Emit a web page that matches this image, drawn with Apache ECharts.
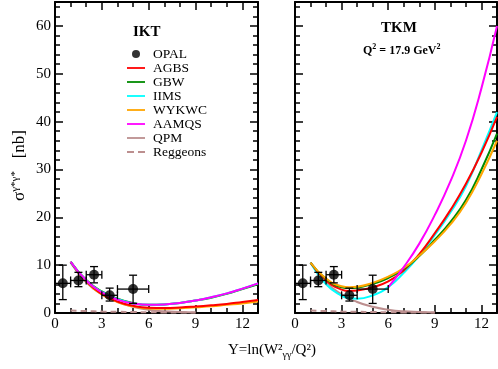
<!DOCTYPE html>
<html>
<head>
<meta charset="utf-8">
<script src="https://cdn.jsdelivr.net/npm/echarts@6/dist/echarts.min.js"></script>
<style>
html, body { margin: 0; padding: 0; background: #fff; }
#chart { width: 498px; height: 369px; }
</style>
</head>
<body>
<div id="chart"></div>
<script>
// OPAL data: x, y, x-lo, x-hi, y-lo, y-hi
var opalX = [0.5, 1.5, 2.5, 3.5, 5.0];
var opalY = [6.2, 6.8, 8.0, 3.7, 5.0];
var opalXLo = [0, 1, 2, 3, 4];
var opalXHi = [1, 2, 3, 4, 6];
var opalYLo = [2.8, 5.5, 6.3, 2.5, 2.0];
var opalYHi = [10.0, 8.5, 9.7, 5.2, 7.9];

// IKT panel
var xIKT = [1, 2, 3, 4, 5, 6, 7, 8, 9, 10, 11, 12, 13];
var iktAGBS = [10.7, 6.6, 4.0, 2.4, 1.5, 1.1, 1.05, 1.15, 1.35, 1.6, 1.9, 2.3, 2.7];
var iktGBW = [10.7, 6.9, 4.5, 3.0, 2.1, 1.7, 1.8, 2.1, 2.6, 3.2, 4.0, 5.0, 6.0];
var iktIIMS = [10.7, 6.8, 4.4, 2.9, 2.0, 1.7, 1.8, 2.1, 2.6, 3.3, 4.1, 5.1, 6.2];
var iktWYKWC = [10.7, 6.6, 3.9, 2.3, 1.4, 0.95, 0.9, 1.0, 1.2, 1.4, 1.7, 2.0, 2.4];
var iktAAMQS = [10.7, 6.8, 4.3, 2.8, 2.0, 1.7, 1.8, 2.1, 2.6, 3.3, 4.1, 5.1, 6.2];

// TKM panel
var xTKM = [1, 2, 3, 3.5, 4, 5, 6, 7, 8, 9, 10, 11, 12, 13];
var tkmWYKWC = [10.5, 7.2, 5.6, 5.4, 5.5, 6.3, 7.6, 9.4, 12.0, 15.0, 18.5, 23.0, 29.0, 36.0];
var tkmGBW = [10.5, 7.1, 5.4, 5.2, 5.3, 6.1, 7.3, 9.2, 11.9, 15.3, 19.0, 23.6, 30.0, 37.5];
var tkmAGBS = [10.5, 6.8, 4.9, 4.6, 4.7, 5.4, 6.6, 8.9, 12.3, 16.7, 21.5, 27.0, 33.5, 41.0];
var tkmIIMS = [10.5, 6.0, 3.6, 3.1, 3.0, 3.7, 5.4, 8.4, 12.0, 16.3, 21.0, 26.5, 34.0, 42.0];
var xTKMAAMQS = [6, 7, 8, 9, 10, 11, 12, 13];
var tkmAAMQS = [5.4, 9.6, 14.5, 20.5, 27.5, 36.0, 47.0, 60.0];

// QPM and Reggeons (same for both panels)
var xQPM = [1, 2, 3, 4, 5, 6, 7, 8, 9];
var qpm = [10.5, 6.4, 3.9, 2.3, 1.3, 0.7, 0.35, 0.2, 0.1];
var xReg = [1, 2, 3, 4, 5, 6, 7, 8, 9];
var reggeons = [0.5, 0.4, 0.3, 0.25, 0.2, 0.15, 0.12, 0.1, 0.08];

var legendNames = ['OPAL', 'AGBS', 'GBW', 'IIMS', 'WYKWC', 'AAMQS', 'QPM', 'Reggeons'];

var FONT = 'Liberation Serif';
var colors = {
    AGBS: '#ff0000',
    GBW: '#008b00',
    IIMS: '#00ffff',
    WYKWC: '#ffa500',
    AAMQS: '#ff00ff',
    QPM: '#bc8f8f',
    Reggeons: '#bc8f8f'
};

// legend icons: a thin bar inside an 18x8 box (moveTo points fix the box)
var ICON_LINE = 'path://M0,0M18,8M0,3.1H18V4.9H0Z';
var ICON_DASH = 'path://M0,0M18,8M0,3.1H7V4.9H0ZM11,3.1H18V4.9H11Z';

function zip(xs, ys) {
    return xs.map(function (x, i) { return [x, ys[i]]; });
}

function opalData() {
    return opalX.map(function (x, i) {
        return [x, opalY[i], opalXLo[i], opalXHi[i], opalYLo[i], opalYHi[i]];
    });
}

function lineSeries(name, xs, ys, panel, dashed) {
    return {
        name: name,
        type: 'line',
        xAxisIndex: panel * 2,
        yAxisIndex: panel * 2,
        data: zip(xs, ys),
        smooth: true,
        symbol: 'none',
        color: colors[name],
        lineStyle: { width: 2, color: colors[name], type: dashed ? [6, 4] : 'solid' },
        z: 3
    };
}

function errorSeries(panel) {
    return {
        type: 'custom',
        xAxisIndex: panel * 2,
        yAxisIndex: panel * 2,
        data: opalData(),
        z: 5,
        renderItem: function (params, api) {
            var c = api.coord([api.value(0), api.value(1)]);
            var l = api.coord([api.value(2), api.value(1)]);
            var r = api.coord([api.value(3), api.value(1)]);
            var b = api.coord([api.value(0), api.value(4)]);
            var t = api.coord([api.value(0), api.value(5)]);
            var cap = 4;
            var style = { stroke: '#000', lineWidth: 1.3, fill: null };
            var segs = [
                [l[0], c[1], r[0], c[1]],
                [c[0], b[1], c[0], t[1]],
                [l[0], c[1] - cap, l[0], c[1] + cap],
                [r[0], c[1] - cap, r[0], c[1] + cap],
                [c[0] - cap, b[1], c[0] + cap, b[1]],
                [c[0] - cap, t[1], c[0] + cap, t[1]]
            ];
            return {
                type: 'group',
                children: segs.map(function (s) {
                    return { type: 'line', shape: { x1: s[0], y1: s[1], x2: s[2], y2: s[3] }, style: style };
                })
            };
        }
    };
}

function opalSeries(panel) {
    return {
        name: 'OPAL',
        type: 'scatter',
        xAxisIndex: panel * 2,
        yAxisIndex: panel * 2,
        data: opalData().map(function (d) { return [d[0], d[1]]; }),
        symbol: 'circle',
        symbolSize: 10,
        itemStyle: { color: '#000' },
        color: '#000',
        z: 6
    };
}

function xAxes(gridIndex, top) {
    return {
        gridIndex: gridIndex,
        type: 'value',
        position: top ? 'top' : 'bottom',
        min: 0, max: 13, interval: 3,
        splitLine: { show: false },
        axisLine: { onZero: false, lineStyle: { color: '#000', width: 2 } },
        axisTick: { inside: true, length: 8, lineStyle: { width: 1.5, color: '#000' } },
        minorTick: { show: true, splitNumber: 3, length: 5, lineStyle: { width: 1.5, color: '#000' } },
        axisLabel: { show: !top, showMaxLabel: false, color: '#000', fontFamily: FONT, fontSize: 15, margin: 4 }
    };
}

function yAxes(gridIndex, right, labels) {
    return {
        gridIndex: gridIndex,
        type: 'value',
        position: right ? 'right' : 'left',
        min: 0, max: 65, interval: 10,
        splitLine: { show: false },
        axisLine: { onZero: false, lineStyle: { color: '#000', width: 2 } },
        axisTick: { inside: true, length: 8, lineStyle: { width: 1.5, color: '#000' } },
        minorTick: { show: true, splitNumber: 5, length: 5, lineStyle: { width: 1.5, color: '#000' } },
        axisLabel: { show: labels, showMaxLabel: false, color: '#000', fontFamily: FONT, fontSize: 15, margin: 4 }
    };
}

var series = [];
[0, 1].forEach(function (p) {
    series.push(lineSeries('QPM', xQPM, qpm, p));
    series.push(lineSeries('Reggeons', xReg, reggeons, p, true));
});
series.push(lineSeries('WYKWC', xIKT, iktWYKWC, 0));
series.push(lineSeries('AGBS', xIKT, iktAGBS, 0));
series.push(lineSeries('GBW', xIKT, iktGBW, 0));
series.push(lineSeries('IIMS', xIKT, iktIIMS, 0));
series.push(lineSeries('AAMQS', xIKT, iktAAMQS, 0));
series.push(lineSeries('IIMS', xTKM, tkmIIMS, 1));
series.push(lineSeries('AGBS', xTKM, tkmAGBS, 1));
series.push(lineSeries('GBW', xTKM, tkmGBW, 1));
series.push(lineSeries('WYKWC', xTKM, tkmWYKWC, 1));
series.push(lineSeries('AAMQS', xTKMAAMQS, tkmAAMQS, 1));
[0, 1].forEach(function (p) {
    series.push(errorSeries(p));
    series.push(opalSeries(p));
});

var legendData = legendNames.map(function (n) {
    if (n === 'OPAL') return { name: n, icon: 'circle' };
    return { name: n, icon: n === 'Reggeons' ? ICON_DASH : ICON_LINE };
});

var option = {
    animation: false,
    backgroundColor: '#fff',
    grid: [
        { left: 55, top: 2, width: 203, height: 311 },
        { left: 295, top: 2, width: 202, height: 311 }
    ],
    xAxis: [xAxes(0, false), xAxes(0, true), xAxes(1, false), xAxes(1, true)],
    yAxis: [yAxes(0, false, true), yAxes(0, true, false), yAxes(1, false, false), yAxes(1, true, false)],
    legend: {
        data: legendData,
        orient: 'vertical',
        left: 127,
        top: 47,
        padding: 0,
        itemWidth: 18,
        itemHeight: 8,
        itemGap: 0,
        textStyle: { fontFamily: FONT, fontSize: 13.5, color: '#000', lineHeight: 13.7, padding: [0, 0, 0, 3] }
    },
    graphic: [
        { type: 'text', left: 133, top: 25, style: { text: 'IKT', font: 'bold 15px "Liberation Serif"', fill: '#000' } },
        { type: 'text', left: 381, top: 21, style: { text: 'TKM', font: 'bold 15px "Liberation Serif"', fill: '#000' } },
        {
            type: 'text', left: 363, top: 43,
            style: {
                text: '{b|Q}{s|2}{b| = 17.9 GeV}{s|2}',
                rich: {
                    b: { font: 'bold 12px "Liberation Serif"', fill: '#000', verticalAlign: 'bottom' },
                    s: { font: 'bold 8px "Liberation Serif"', fill: '#000', verticalAlign: 'top', padding: [0, 0, 6, 0] }
                }
            }
        },
        {
            type: 'text', x: 10, y: 201, rotation: Math.PI / 2,
            style: {
                text: '{n|σ}{s|γ*γ*}{n|   [nb]}',
                rich: {
                    n: { font: '17px "Liberation Serif"', fill: '#000' },
                    s: { font: '11px "Liberation Serif"', fill: '#000', padding: [0, 0, 9, 0] }
                }
            }
        },
        {
            type: 'text', left: 228, top: 343,
            style: {
                text: '{n|Y=ln(W²}{s|γγ}{n|/Q²)}',
                rich: {
                    n: { font: '15px "Liberation Serif"', fill: '#000' },
                    s: { font: '10px "Liberation Serif"', fill: '#000', padding: [10, 0, 0, 0] }
                }
            }
        }
    ],
    series: series
};

var myChart = echarts.init(document.getElementById('chart'));
myChart.setOption(option, true);
</script>
</body>
</html>
